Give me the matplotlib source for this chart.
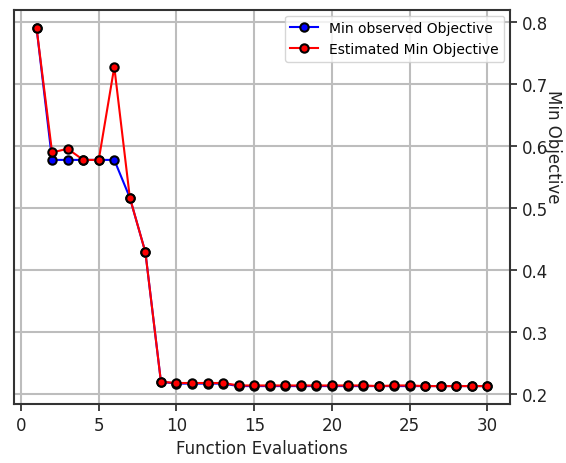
import matplotlib
matplotlib.use("Agg")
import matplotlib.pyplot as plt

evals = list(range(1, 31))
min_observed = [0.790, 0.577, 0.577, 0.577, 0.577, 0.577, 0.516, 0.428, 0.219,
                0.216, 0.216, 0.216, 0.216, 0.212, 0.212, 0.212, 0.212, 0.212,
                0.212, 0.212, 0.212, 0.212, 0.212, 0.212, 0.212, 0.212, 0.212,
                0.212, 0.212, 0.212]
estimated_min = [0.790, 0.589, 0.595, 0.577, 0.577, 0.727, 0.516, 0.428, 0.219,
                 0.217, 0.217, 0.217, 0.217, 0.213, 0.213, 0.213, 0.213, 0.213,
                 0.213, 0.213, 0.213, 0.213, 0.212, 0.213, 0.213, 0.212, 0.212,
                 0.212, 0.212, 0.212]

fig = plt.figure(figsize=(5.66, 4.64), dpi=100)
ax = fig.add_axes([14/566, 1 - 405/464, 496/566, 394/464])

ax.plot(evals, min_observed, color="blue", marker="o", markerfacecolor="blue",
        markeredgecolor="black", markersize=6, markeredgewidth=1.5, linewidth=1.5,
        label="Min observed Objective")
ax.plot(evals, estimated_min, color="red", marker="o", markerfacecolor="red",
        markeredgecolor="black", markersize=6, markeredgewidth=1.5, linewidth=1.5,
        label="Estimated Min Objective")

ax.grid(True, color="#bdbdbd", linewidth=1.5)
ax.set_axisbelow(True)
ax.yaxis.tick_right()
ax.set_xticks([0, 5, 10, 15, 20, 25, 30])
ax.set_yticks([0.2, 0.3, 0.4, 0.5, 0.6, 0.7, 0.8])
ax.tick_params(labelsize=12, width=1.2, length=5, colors="#222222")
for s in ax.spines.values():
    s.set_color("#333333")
    s.set_linewidth(1.5)

ax.set_xlabel("Function Evaluations", fontsize=12, color="#222222")
ax.set_ylabel("Min Objective", fontsize=12, rotation=-90, va="center", ha="center",
              color="#222222")
ax.yaxis.set_label_coords(1.087, 0.655)

ax.legend(loc="upper right", fontsize=10, borderaxespad=0.4, handlelength=2.0)

fig.savefig("out.png", dpi=100)
